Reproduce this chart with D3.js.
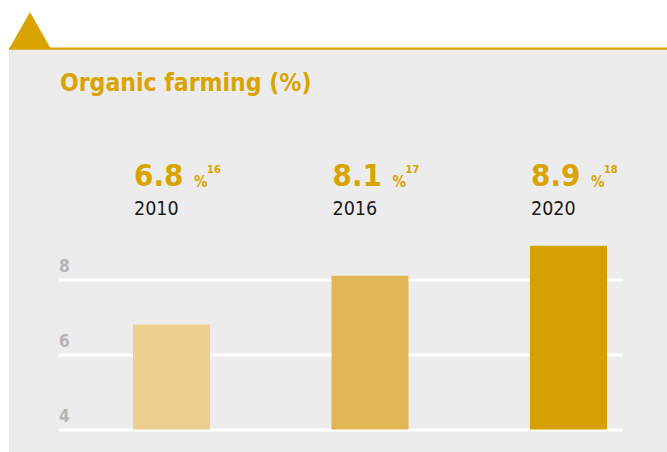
<!DOCTYPE html>
<html>
<head>
<meta charset="utf-8">
<script src="https://cdn.jsdelivr.net/npm/d3@7"></script>
<style>
  body { margin: 0; background: #fff; }
  svg text { font-family: "DejaVu Sans Condensed", "DejaVu Sans", sans-serif; }
</style>
</head>
<body>
<svg id="chart" width="667" height="452"></svg>
<script>
// data
const years = ["2010", "2016", "2020"];
const values = [6.8, 8.1, 8.9];
const notes = ["16", "17", "18"];
const yTicks = [4, 6, 8];
const barColors = ["#edcf90", "#e1b654", "#d5a100"];

const gold = "#d9a300";
const svg = d3.select("#chart");

// grey panel with the gold top rule and triangle tab
svg.append("rect")
  .attr("x", 9).attr("y", 49)
  .attr("width", 658).attr("height", 403)
  .attr("fill", "#ececec");
svg.append("rect")
  .attr("x", 9).attr("y", 47.5)
  .attr("width", 658).attr("height", 2.2)
  .attr("fill", gold);
svg.append("path")
  .attr("d", "M9,49 L30,12 L51,49 Z")
  .attr("fill", gold);

svg.append("text")
  .attr("x", 60).attr("y", 91)
  .attr("fill", gold)
  .attr("font-size", 24.5)
  .attr("font-weight", "bold")
  .text("Organic farming (%)");

var xScale = d3.scaleBand()
  .domain(years)
  .range([133, 607])
  .paddingInner(0.612)
  .paddingOuter(0);

var yScale = d3.scaleLinear()
  .domain([4, 9])
  .range([429.5, 242]);

// gridlines + tick labels
var yAxis = d3.axisRight(yScale)
  .tickValues(yTicks)
  .tickSize(564)
  .tickFormat(d3.format("d"));

var g = svg.append("g")
  .attr("transform", "translate(59,0)")
  .call(yAxis);
g.select(".domain").remove();
g.selectAll(".tick line")
  .attr("stroke", "#ffffff")
  .attr("stroke-width", 3);
g.selectAll(".tick text")
  .attr("x", 0)
  .attr("dy", "-0.45em")
  .attr("text-anchor", "start")
  .attr("fill", "#b4b4b4")
  .attr("font-size", 17)
  .attr("font-weight", "bold")
  .attr("font-family", "DejaVu Sans Condensed, DejaVu Sans, sans-serif");

const data = years.map((y, i) => ({ year: y, value: values[i], note: notes[i], color: barColors[i] }));

svg.selectAll("rect.bar")
  .data(data)
  .enter()
  .append("rect")
    .attr("class", "bar")
    .attr("x", d => xScale(d.year))
    .attr("y", d => yScale(d.value))
    .attr("width", xScale.bandwidth())
    .attr("height", d => yScale(4) - yScale(d.value))
    .attr("fill", d => d.color);

// big value labels above the bars
var lab = svg.selectAll("g.lab")
  .data(data)
  .enter()
  .append("g")
    .attr("class", "lab")
    .attr("transform", d => "translate(" + (xScale(d.year) + 1) + ",0)");

lab.append("text")
  .attr("y", 186)
  .attr("fill", gold)
  .attr("font-size", 31)
  .attr("font-weight", "bold")
  .text(d => d3.format(".1f")(d.value));

lab.append("text")
  .attr("x", 60)
  .attr("y", 187)
  .attr("fill", gold)
  .attr("font-size", 15)
  .attr("font-weight", "bold")
  .text("%");

lab.append("text")
  .attr("x", 73)
  .attr("y", 172.5)
  .attr("fill", gold)
  .attr("font-size", 11)
  .attr("font-weight", "bold")
  .text(d => d.note);

lab.append("text")
  .attr("y", 215)
  .attr("fill", "#1a1a1a")
  .attr("font-size", 19.5)
  .text(d => d.year);
</script>
</body>
</html>
